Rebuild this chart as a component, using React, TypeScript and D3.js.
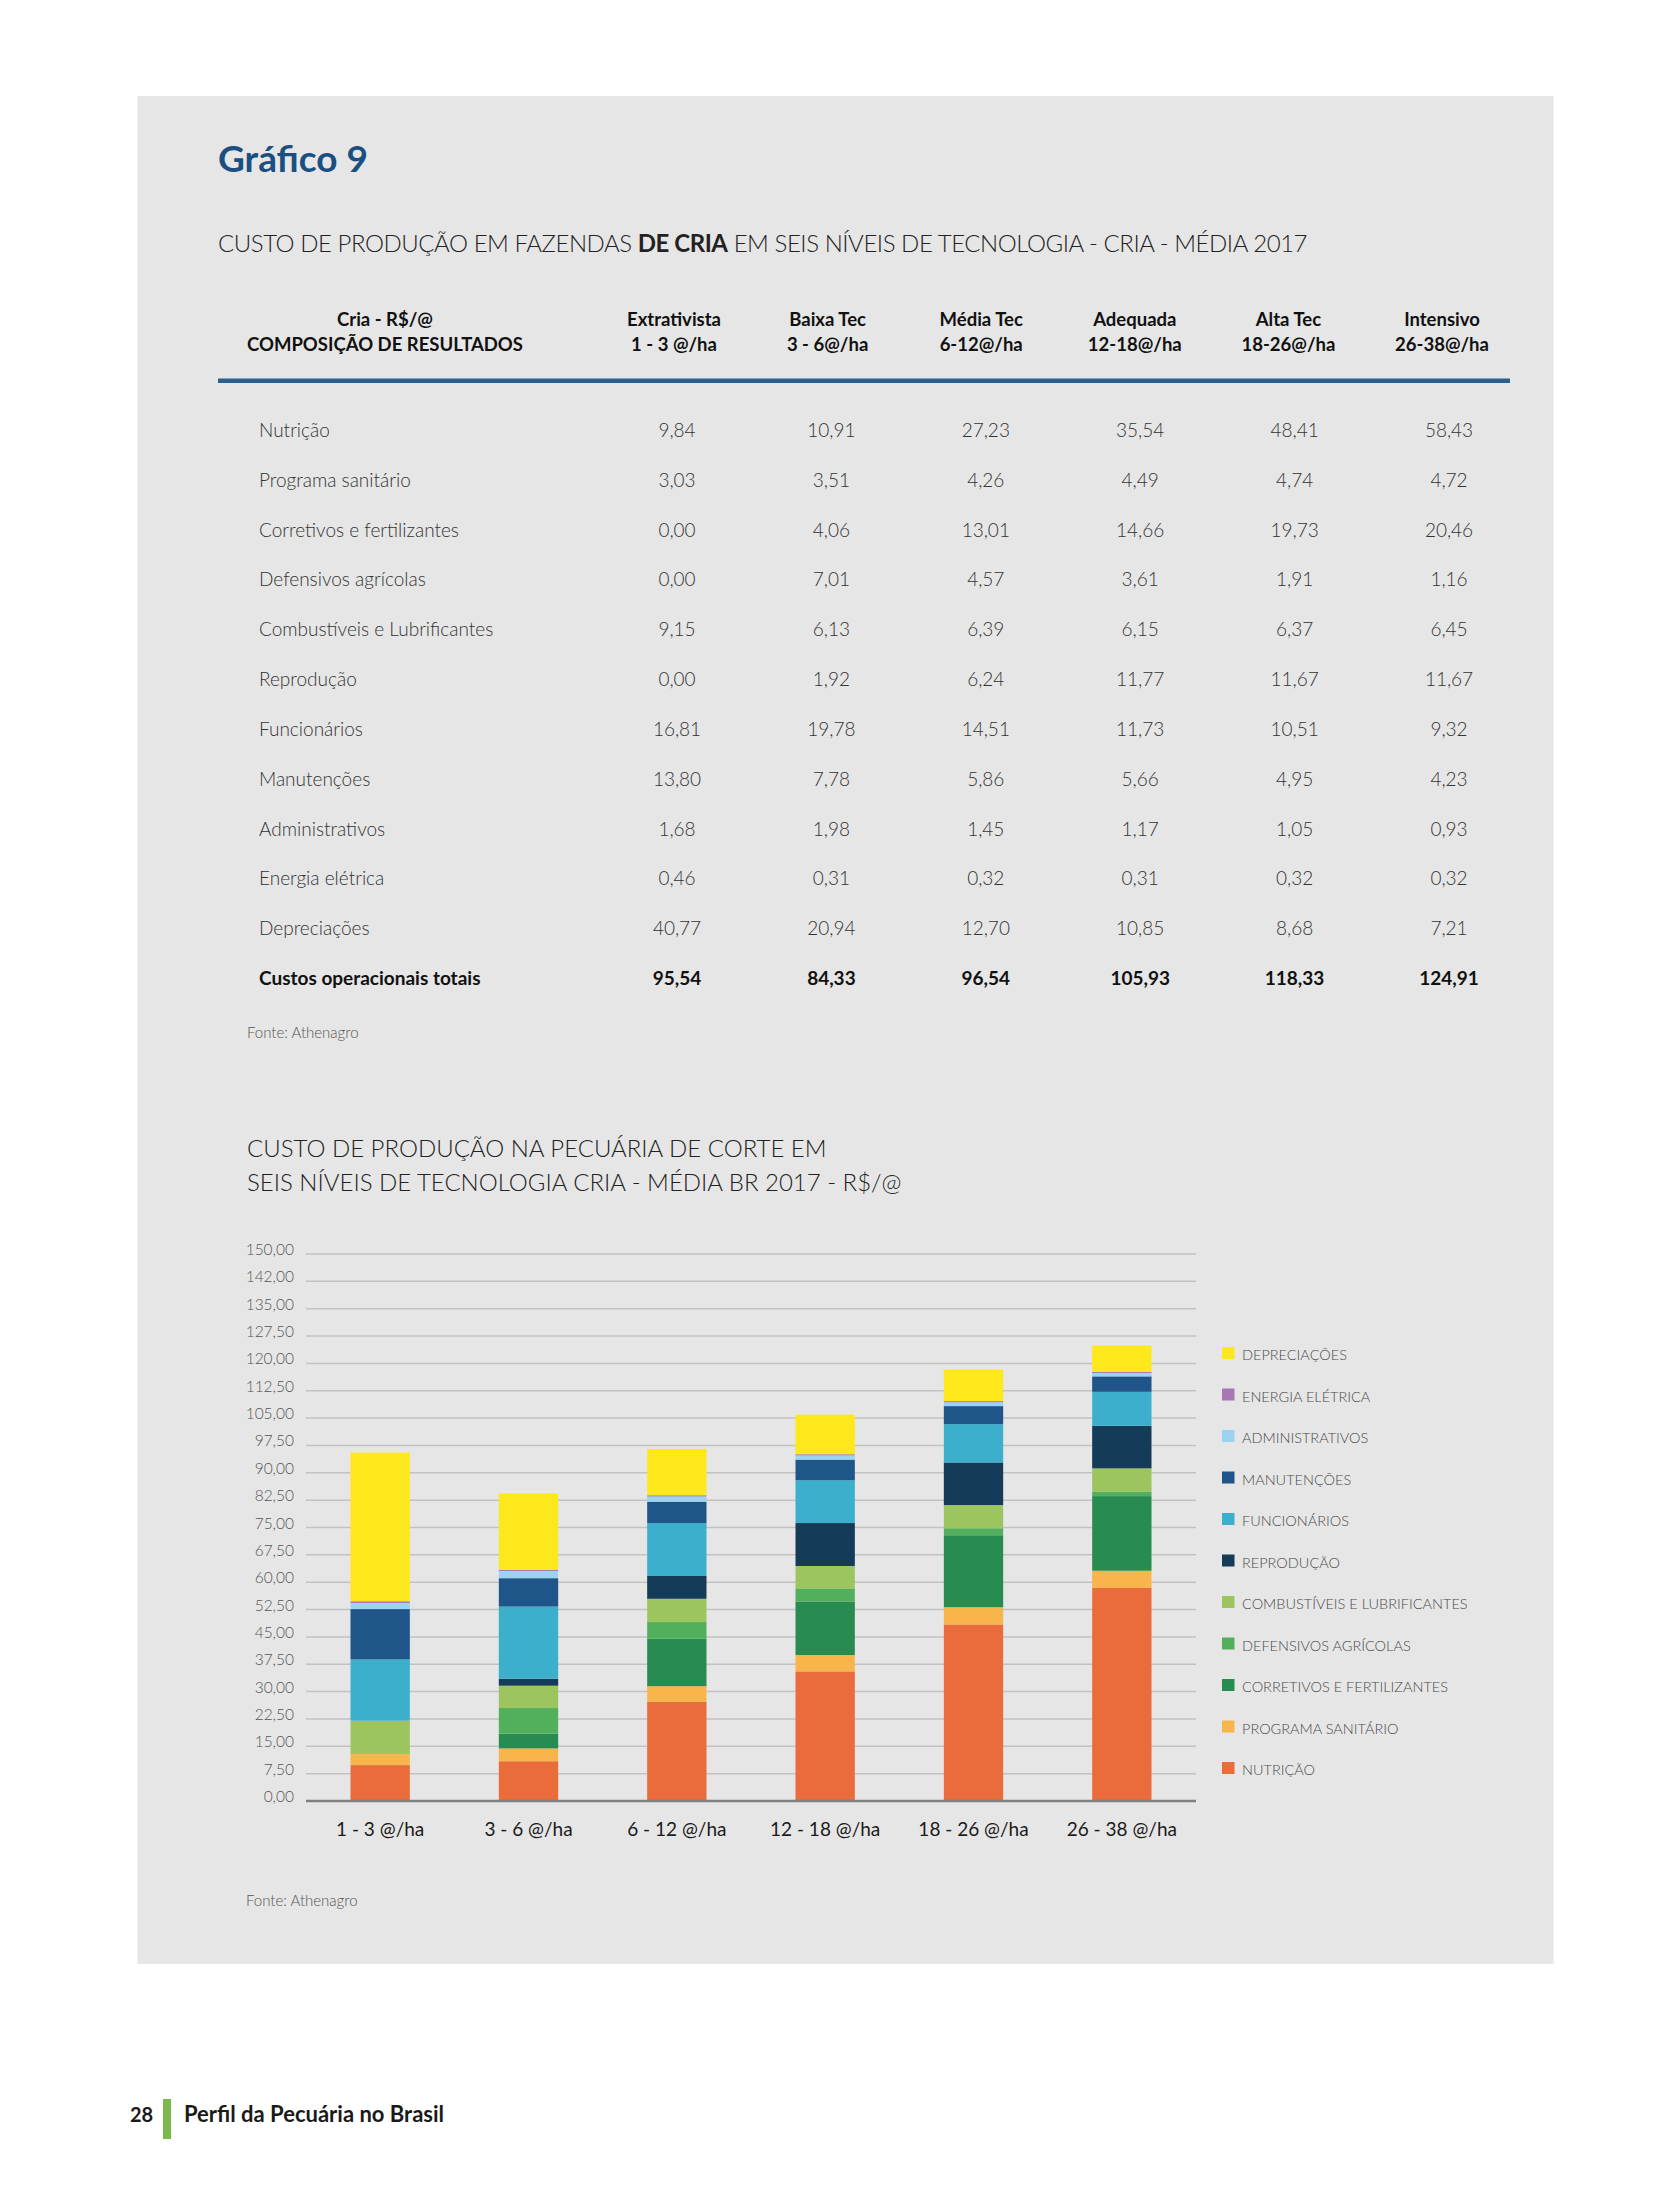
import React from "react";
import * as d3 from "d3";

// ---------- data ----------
const categories = ["1 - 3 @/ha", "3 - 6 @/ha", "6 - 12 @/ha", "12 - 18 @/ha", "18 - 26 @/ha", "26 - 38 @/ha"];
const levelNames = ["Extrativista", "Baixa Tec", "Média Tec", "Adequada", "Alta Tec", "Intensivo"];
const levelRanges = ["1 - 3 @/ha", "3 - 6@/ha", "6-12@/ha", "12-18@/ha", "18-26@/ha", "26-38@/ha"];

const costItems = [
  "Nutrição",
  "Programa sanitário",
  "Corretivos e fertilizantes",
  "Defensivos agrícolas",
  "Combustíveis e Lubrificantes",
  "Reprodução",
  "Funcionários",
  "Manutenções",
  "Administrativos",
  "Energia elétrica",
  "Depreciações",
];
const legendLabels = [
  "NUTRIÇÃO",
  "PROGRAMA SANITÁRIO",
  "CORRETIVOS E FERTILIZANTES",
  "DEFENSIVOS AGRÍCOLAS",
  "COMBUSTÍVEIS E LUBRIFICANTES",
  "REPRODUÇÃO",
  "FUNCIONÁRIOS",
  "MANUTENÇÕES",
  "ADMINISTRATIVOS",
  "ENERGIA ELÉTRICA",
  "DEPRECIAÇÕES",
];
const seriesColors = [
  "#E96C3A",
  "#F7B54B",
  "#288C50",
  "#52B05D",
  "#9CC560",
  "#143B57",
  "#3BAFCB",
  "#1F5588",
  "#9AD4F0",
  "#A877B5",
  "#FDE81B",
];

const nutricao = [9.84, 10.91, 27.23, 35.54, 48.41, 58.43];
const programaSanitario = [3.03, 3.51, 4.26, 4.49, 4.74, 4.72];
const corretivos = [0.0, 4.06, 13.01, 14.66, 19.73, 20.46];
const defensivos = [0.0, 7.01, 4.57, 3.61, 1.91, 1.16];
const combustiveis = [9.15, 6.13, 6.39, 6.15, 6.37, 6.45];
const reproducao = [0.0, 1.92, 6.24, 11.77, 11.67, 11.67];
const funcionarios = [16.81, 19.78, 14.51, 11.73, 10.51, 9.32];
const manutencoes = [13.8, 7.78, 5.86, 5.66, 4.95, 4.23];
const administrativos = [1.68, 1.98, 1.45, 1.17, 1.05, 0.93];
const energia = [0.46, 0.31, 0.32, 0.31, 0.32, 0.32];
const depreciacoes = [40.77, 20.94, 12.7, 10.85, 8.68, 7.21];
const totais = [95.54, 84.33, 96.54, 105.93, 118.33, 124.91];

const seriesValues = [
  nutricao,
  programaSanitario,
  corretivos,
  defensivos,
  combustiveis,
  reproducao,
  funcionarios,
  manutencoes,
  administrativos,
  energia,
  depreciacoes,
];

const yTickValues = [0, 7.5, 15, 22.5, 30, 37.5, 45, 52.5, 60, 67.5, 75, 82.5, 90, 97.5, 105, 112.5, 120, 127.5, 135, 142.5, 150];
const yTickLabels = ["0,00", "7,50", "15,00", "22,50", "30,00", "37,50", "45,00", "52,50", "60,00", "67,50", "75,00", "82,50", "90,00", "97,50", "105,00", "112,50", "120,00", "127,50", "135,00", "142,00", "150,00"];

// ---------- layout ----------
const W = 1654;
const H = 2205;
const FONT = "Lato, 'Open Sans', sans-serif";
const fmt = (v: number) => v.toFixed(2).replace(".", ",");

export default function App() {
  const keys = costItems.map((_, i) => "s" + i);
  const rows = categories.map((c, ci) => {
    const o: any = { cat: c };
    keys.forEach((k, si) => (o[k] = seriesValues[si][ci]));
    return o;
  });
  const stacked = d3.stack<any>().keys(keys)(rows);

  const x = d3.scaleBand<string>().domain(categories).range([306, 1196]).paddingInner(0.6).paddingOuter(0.3);
  const y = d3.scaleLinear().domain([0, 150]).range([1801, 1254]);

  // table columns
  const headerCols = d3.scalePoint<string>().domain(levelNames).range([674, 1442]);
  const numCols = d3.scalePoint<string>().domain(levelNames).range([677, 1449]);
  const rowY = d3.scaleLinear().domain([0, 11]).range([437, 985]);

  const legendY = d3.scaleLinear().domain([0, 10]).range([1347, 1762]);

  return (
    <svg
      width={W}
      height={H}
      viewBox={`0 0 ${W} ${H}`}
      style={{ position: "absolute", left: 0, top: 0, background: "#fff" }}
      fontFamily={FONT}
    >
      <rect x={0} y={0} width={W} height={H} fill="#ffffff" />
      <rect x={137.5} y={96} width={1416} height={1868} fill="#E6E6E6" />

      {/* Title */}
      <text x={218} y={172} fontSize={37} fontWeight={700} fill="#1B4F82">
        Gráfico 9
      </text>
      <text x={218} y={252} fontSize={24} fontWeight={300} fill="#222" letterSpacing={-0.45}>
        CUSTO DE PRODUÇÃO EM FAZENDAS <tspan fontWeight={700}>DE CRIA</tspan> EM SEIS NÍVEIS DE TECNOLOGIA - CRIA - MÉDIA 2017
      </text>

      {/* Table header */}
      <g fontSize={18.5} fontWeight={700} fill="#111" textAnchor="middle">
        <text x={385} y={326}>Cria - R$/@</text>
        <text x={385} y={351}>COMPOSIÇÃO DE RESULTADOS</text>
        {levelNames.map((n, i) => (
          <g key={n}>
            <text x={headerCols(n)} y={326}>{n}</text>
            <text x={headerCols(n)} y={351}>{levelRanges[i]}</text>
          </g>
        ))}
      </g>
      <rect x={218} y={378.5} width={1292} height={4.5} fill="#2B5F8E" />

      {/* Table rows */}
      <g fontSize={19} fill="#333">
        {costItems.map((item, r) => (
          <g key={item} fontWeight={300}>
            <text x={259} y={rowY(r)}>{item}</text>
            {levelNames.map((n, c) => (
              <text key={n} x={numCols(n)} y={rowY(r)} textAnchor="middle">
                {fmt(seriesValues[r][c])}
              </text>
            ))}
          </g>
        ))}
        <g fontWeight={700} fill="#111">
          <text x={259} y={rowY(11)}>Custos operacionais totais</text>
          {levelNames.map((n, c) => (
            <text key={n} x={numCols(n)} y={rowY(11)} textAnchor="middle">
              {fmt(totais[c])}
            </text>
          ))}
        </g>
      </g>
      <text x={247} y={1038} fontSize={15} fontWeight={300} fill="#555">
        Fonte: Athenagro
      </text>

      {/* Chart title */}
      <g fontSize={24} fontWeight={300} fill="#222">
        <text x={247} y={1157}>CUSTO DE PRODUÇÃO NA PECUÁRIA DE CORTE EM</text>
        <text x={247} y={1191}>SEIS NÍVEIS DE TECNOLOGIA CRIA - MÉDIA BR 2017 - R$/@</text>
      </g>

      {/* Grid + y labels */}
      <g>
        {yTickValues.map((v, i) =>
          i === 0 ? null : (
            <line key={v} x1={306} x2={1196} y1={y(v)} y2={y(v)} stroke="#C2C2C2" strokeWidth={1.5} />
          )
        )}
        {yTickValues.map((v, i) => (
          <text key={"l" + v} x={294} y={y(v) + 1} fontSize={15.5} fontWeight={300} fill="#555" textAnchor="end">
            {yTickLabels[i]}
          </text>
        ))}
      </g>

      {/* Bars */}
      <g>
        {stacked.map((layer, si) => (
          <g key={layer.key} fill={seriesColors[si]}>
            {layer.map((d: any, ci: number) => {
              const h = y(d[0]) - y(d[1]);
              if (h <= 0) return null;
              return <rect key={ci} x={x(categories[ci])} y={y(d[1])} width={x.bandwidth()} height={h} />;
            })}
          </g>
        ))}
      </g>
      <line x1={306} x2={1196} y1={y(0)} y2={y(0)} stroke="#808080" strokeWidth={2.5} />

      {/* X labels */}
      <g fontSize={19} fill="#1a1a1a" textAnchor="middle">
        {categories.map((c) => (
          <text key={c} x={(x(c) as number) + x.bandwidth() / 2} y={1836}>
            {c}
          </text>
        ))}
      </g>

      {/* Legend */}
      <g>
        {legendLabels
          .map((l, i) => ({ l, c: seriesColors[i] }))
          .reverse()
          .map((d, i) => (
            <g key={d.l}>
              <rect x={1222} y={legendY(i)} width={12.5} height={12} fill={d.c} />
              <text x={1242} y={legendY(i) + 13} fontSize={14.5} fontWeight={300} fill="#4a4a4a">
                {d.l}
              </text>
            </g>
          ))}
      </g>

      <text x={246} y={1906} fontSize={15} fontWeight={300} fill="#555">
        Fonte: Athenagro
      </text>

      {/* Footer */}
      <text x={130} y={2122} fontSize={20} fontWeight={700} fill="#1a1a1a">
        28
      </text>
      <rect x={163} y={2099} width={8} height={40} fill="#7DB84A" />
      <text x={184} y={2122} fontSize={22} fontWeight={700} fill="#1a1a1a">
        Perfil da Pecuária no Brasil
      </text>
    </svg>
  );
}
